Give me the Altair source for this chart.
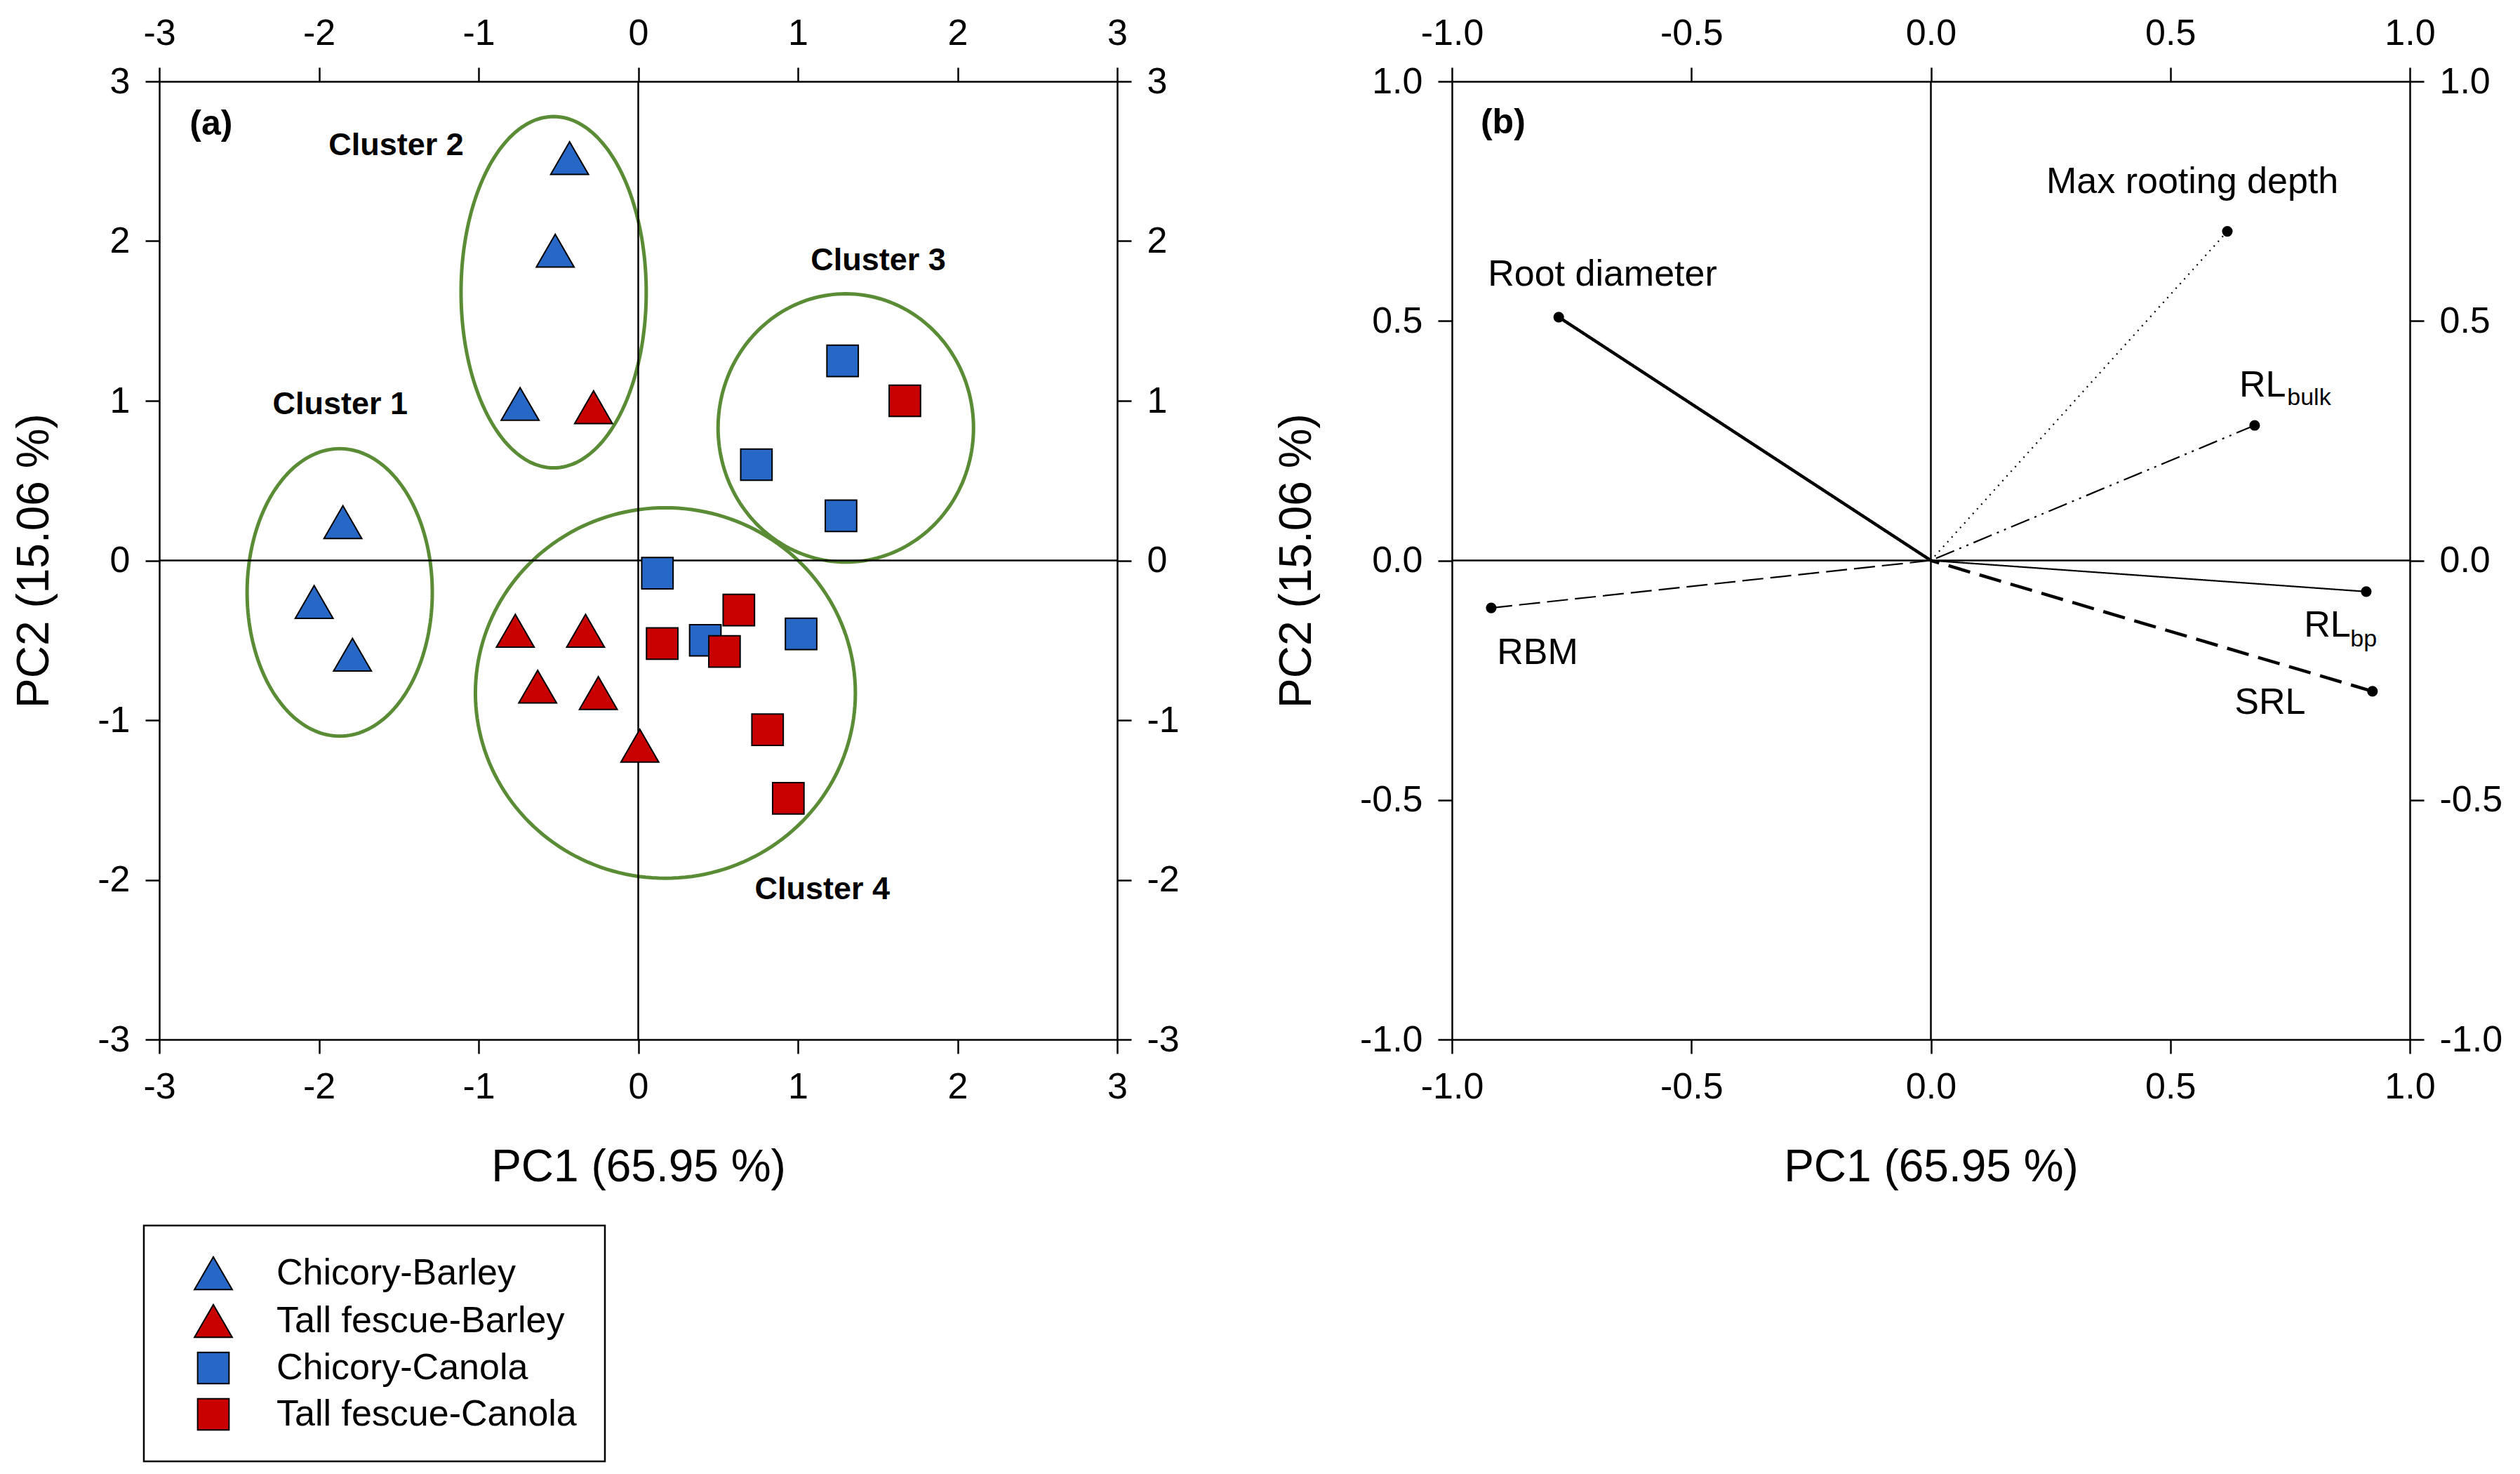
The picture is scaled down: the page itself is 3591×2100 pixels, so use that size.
import altair as alt
import pandas as pd
import numpy as np

FONT = "Liberation Sans"
BLUE = "#2767C6"
RED = "#C80000"
GREEN = "#5A8C35"

# ---------------- Panel (a): PCA scores ----------------
groups = ["Chicory-Barley", "Tall fescue-Barley", "Chicory-Canola", "Tall fescue-Canola"]
cb_x = [-0.43, -0.52, -0.74, -1.85, -2.03, -1.79]
cb_y = [2.52, 1.94, 0.98, 0.24, -0.26, -0.59]
tb_x = [-0.28, -0.77, -0.33, -0.63, -0.25, 0.01]
tb_y = [0.96, -0.44, -0.44, -0.79, -0.83, -1.16]
cc_x = [1.28, 0.74, 1.27, 0.12, 0.42, 1.02]
cc_y = [1.25, 0.60, 0.28, -0.08, -0.50, -0.46]
tc_x = [1.67, 0.63, 0.15, 0.54, 0.81, 0.94]
tc_y = [1.00, -0.31, -0.52, -0.57, -1.06, -1.49]

# cluster ellipses (centre, radii) and label positions
cl_names = ["Cluster 1", "Cluster 2", "Cluster 3", "Cluster 4"]
cl_cx = [-1.87, -0.53, 1.30, 0.17]
cl_cy = [-0.20, 1.68, 0.83, -0.83]
cl_rx = [0.58, 0.58, 0.80, 1.19]
cl_ry = [0.90, 1.10, 0.84, 1.16]
cl_lx = [-2.29, -1.94, 1.08, 0.73]
cl_ly = [0.98, 2.60, 1.88, -2.06]

ticks_a = [-3, -2, -1, 0, 1, 2, 3]

# ---------------- Panel (b): loadings ----------------
var_names = ["Root diameter", "RBM", "Max rooting depth", "RL_bulk", "RL_bp", "SRL"]
load_x = [-0.777, -0.918, 0.619, 0.676, 0.909, 0.922]
load_y = [0.508, -0.099, 0.687, 0.282, -0.065, -0.273]
var_dash = [[1, 0], [30, 10], [2, 7], [28, 8, 3, 8, 3, 8], [1, 0], [32, 14]]
var_width = [4.5, 2.2, 2.2, 2.2, 2.2, 4.5]

lab_text = ["Root diameter", "Max rooting depth", "RL", "RL", "RBM", "SRL"]
lab_x = [-0.925, 0.241, 0.644, 0.779, -0.906, 0.634]
lab_y = [0.597, 0.791, 0.366, -0.136, -0.193, -0.296]
sub_text = ["bulk", "bp"]
sub_x = [0.744, 0.876]
sub_y = [0.339, -0.165]

ticks_b = [-1.0, -0.5, 0.0, 0.5, 1.0]

MINUS_FIX = "replace(datum.label, '\u2212', '-')"

# ---------------- build tables ----------------
pts = pd.DataFrame({
    "group": [groups[0]] * 6 + [groups[1]] * 6 + [groups[2]] * 6 + [groups[3]] * 6,
    "pc1": cb_x + tb_x + cc_x + tc_x,
    "pc2": cb_y + tb_y + cc_y + tc_y,
})

rows = []
angles = np.linspace(0, 2 * np.pi, 181)
for name, cx, cy, rx, ry in zip(cl_names, cl_cx, cl_cy, cl_rx, cl_ry):
    for i, a in enumerate(angles):
        rows.append({"cluster": name, "i": i,
                     "ex": cx + rx * np.cos(a), "ey": cy + ry * np.sin(a)})
ell = pd.DataFrame(rows)
cl_lab = pd.DataFrame({"t": cl_names, "x": cl_lx, "y": cl_ly})
zero_df = pd.DataFrame({"z": [0.0]})

xa = alt.Scale(domain=[-3, 3], nice=False, zero=False)
ya = alt.Scale(domain=[-3, 3], nice=False, zero=False)


def axis(orient, values, fmt, title=None):
    kw = dict(orient=orient, values=values, format=fmt, labelExpr=MINUS_FIX)
    kw["title"] = title if title is not None else ""
    return alt.Axis(**kw)


leg = alt.Legend(orient="none", legendX=-22, legendY=1630, title=None,
                 strokeColor="black", padding=40, symbolOffset=31,
                 labelOffset=62, labelFontSize=52, labelFont=FONT,
                 labelColor="black", labelLimit=1200, rowPadding=12,
                 symbolStrokeColor="black", symbolStrokeWidth=2)

ell_layer = alt.Chart(ell).mark_line(color=GREEN, strokeWidth=5).encode(
    x=alt.X("ex:Q", scale=xa, axis=None),
    y=alt.Y("ey:Q", scale=ya, axis=None),
    detail="cluster:N",
    order="i:Q",
)
vrule_a = alt.Chart(zero_df).mark_rule(color="black", strokeWidth=2.5).encode(
    x=alt.X("z:Q", scale=xa, axis=axis("top", ticks_a, "d")))
hrule_a = alt.Chart(zero_df).mark_rule(color="black", strokeWidth=2.5).encode(
    y=alt.Y("z:Q", scale=ya, axis=axis("right", ticks_a, "d")))
points = alt.Chart(pts).mark_point(filled=True, opacity=1, stroke="black", strokeWidth=2).encode(
    x=alt.X("pc1:Q", scale=xa, axis=axis("bottom", ticks_a, "d", "PC1 (65.95 %)")),
    y=alt.Y("pc2:Q", scale=ya, axis=axis("left", ticks_a, "d", "PC2 (15.06 %)")),
    color=alt.Color("group:N", scale=alt.Scale(domain=groups, range=[BLUE, RED, BLUE, RED]), legend=leg),
    shape=alt.Shape("group:N", scale=alt.Scale(domain=groups, range=["triangle-up", "triangle-up", "square", "square"]), legend=leg),
    size=alt.Size("group:N", scale=alt.Scale(type="ordinal", domain=groups, range=[2900, 2900, 2000, 2000]), legend=leg),
)
cl_text = alt.Chart(cl_lab).mark_text(align="left", baseline="middle", font=FONT, fontSize=45,
                                      fontWeight="bold", color="black").encode(
    x=alt.X("x:Q", scale=xa, axis=None), y=alt.Y("y:Q", scale=ya, axis=None), text="t:N")
tag_a = alt.Chart(pd.DataFrame({"t": ["(a)"], "x": [-2.81], "y": [2.73]})).mark_text(
    align="left", baseline="middle", font=FONT, fontSize=50, fontWeight="bold", color="black").encode(
    x=alt.X("x:Q", scale=xa, axis=None), y=alt.Y("y:Q", scale=ya, axis=None), text="t:N")

panel_a = alt.layer(ell_layer, vrule_a, hrule_a, points, cl_text, tag_a).properties(width=1365, height=1365)

# ---------------- panel b ----------------
xb = alt.Scale(domain=[-1, 1], nice=False, zero=False)
yb = alt.Scale(domain=[-1, 1], nice=False, zero=False)
load = pd.DataFrame({"var": var_names, "lx": load_x, "ly": load_y})
labs = pd.DataFrame({"t": lab_text, "x": lab_x, "y": lab_y})
subs = pd.DataFrame({"t": sub_text, "x": sub_x, "y": sub_y})

vrule_b = alt.Chart(zero_df).mark_rule(color="black", strokeWidth=2.5).encode(
    x=alt.X("z:Q", scale=xb, axis=axis("top", ticks_b, ".1f")))
hrule_b = alt.Chart(zero_df).mark_rule(color="black", strokeWidth=2.5).encode(
    y=alt.Y("z:Q", scale=yb, axis=axis("right", ticks_b, ".1f")))
vec = alt.Chart(load).mark_rule(color="black").encode(
    x=alt.X("lx:Q", scale=xb, axis=axis("bottom", ticks_b, ".1f", "PC1 (65.95 %)")),
    y=alt.Y("ly:Q", scale=yb, axis=axis("left", ticks_b, ".1f", "PC2 (15.06 %)")),
    x2=alt.datum(0),
    y2=alt.datum(0),
    strokeDash=alt.StrokeDash("var:N", scale=alt.Scale(domain=var_names, range=var_dash), legend=None),
    strokeWidth=alt.StrokeWidth("var:N", scale=alt.Scale(type="ordinal", domain=var_names, range=var_width), legend=None),
)
ends = alt.Chart(load).mark_point(filled=True, color="black", opacity=1, size=230, shape="circle").encode(
    x=alt.X("lx:Q", scale=xb, axis=None), y=alt.Y("ly:Q", scale=yb, axis=None))
lab_layer = alt.Chart(labs).mark_text(align="left", baseline="middle", font=FONT, fontSize=52, color="black").encode(
    x=alt.X("x:Q", scale=xb, axis=None), y=alt.Y("y:Q", scale=yb, axis=None), text="t:N")
sub_layer = alt.Chart(subs).mark_text(align="left", baseline="middle", font=FONT, fontSize=34, color="black").encode(
    x=alt.X("x:Q", scale=xb, axis=None), y=alt.Y("y:Q", scale=yb, axis=None), text="t:N")
tag_b = alt.Chart(pd.DataFrame({"t": ["(b)"], "x": [-0.94], "y": [0.913]})).mark_text(
    align="left", baseline="middle", font=FONT, fontSize=50, fontWeight="bold", color="black").encode(
    x=alt.X("x:Q", scale=xb, axis=None), y=alt.Y("y:Q", scale=yb, axis=None), text="t:N")

panel_b = alt.layer(vrule_b, hrule_b, vec, ends, lab_layer, sub_layer, tag_b).properties(width=1365, height=1365)

chart = alt.hconcat(panel_a, panel_b, spacing=135).properties(
    padding={"left": 9, "top": 13, "right": 10, "bottom": 5}
).configure(font=FONT).configure_view(strokeWidth=0).configure_axis(
    grid=False, domainColor="black", domainWidth=2.5, tickColor="black", tickWidth=2.5,
    tickSize=20, labelFontSize=52, labelColor="black", labelPadding=22, labelFont=FONT,
    titleFont=FONT, titleFontSize=64, titleFontWeight="normal", titleColor="black",
    titlePadding=57, labelFlush=False, labelOverlap=False,
).configure_legend(strokeWidth=2.5)

chart.save("out.html", embed_options={"renderer": "svg", "actions": False})
